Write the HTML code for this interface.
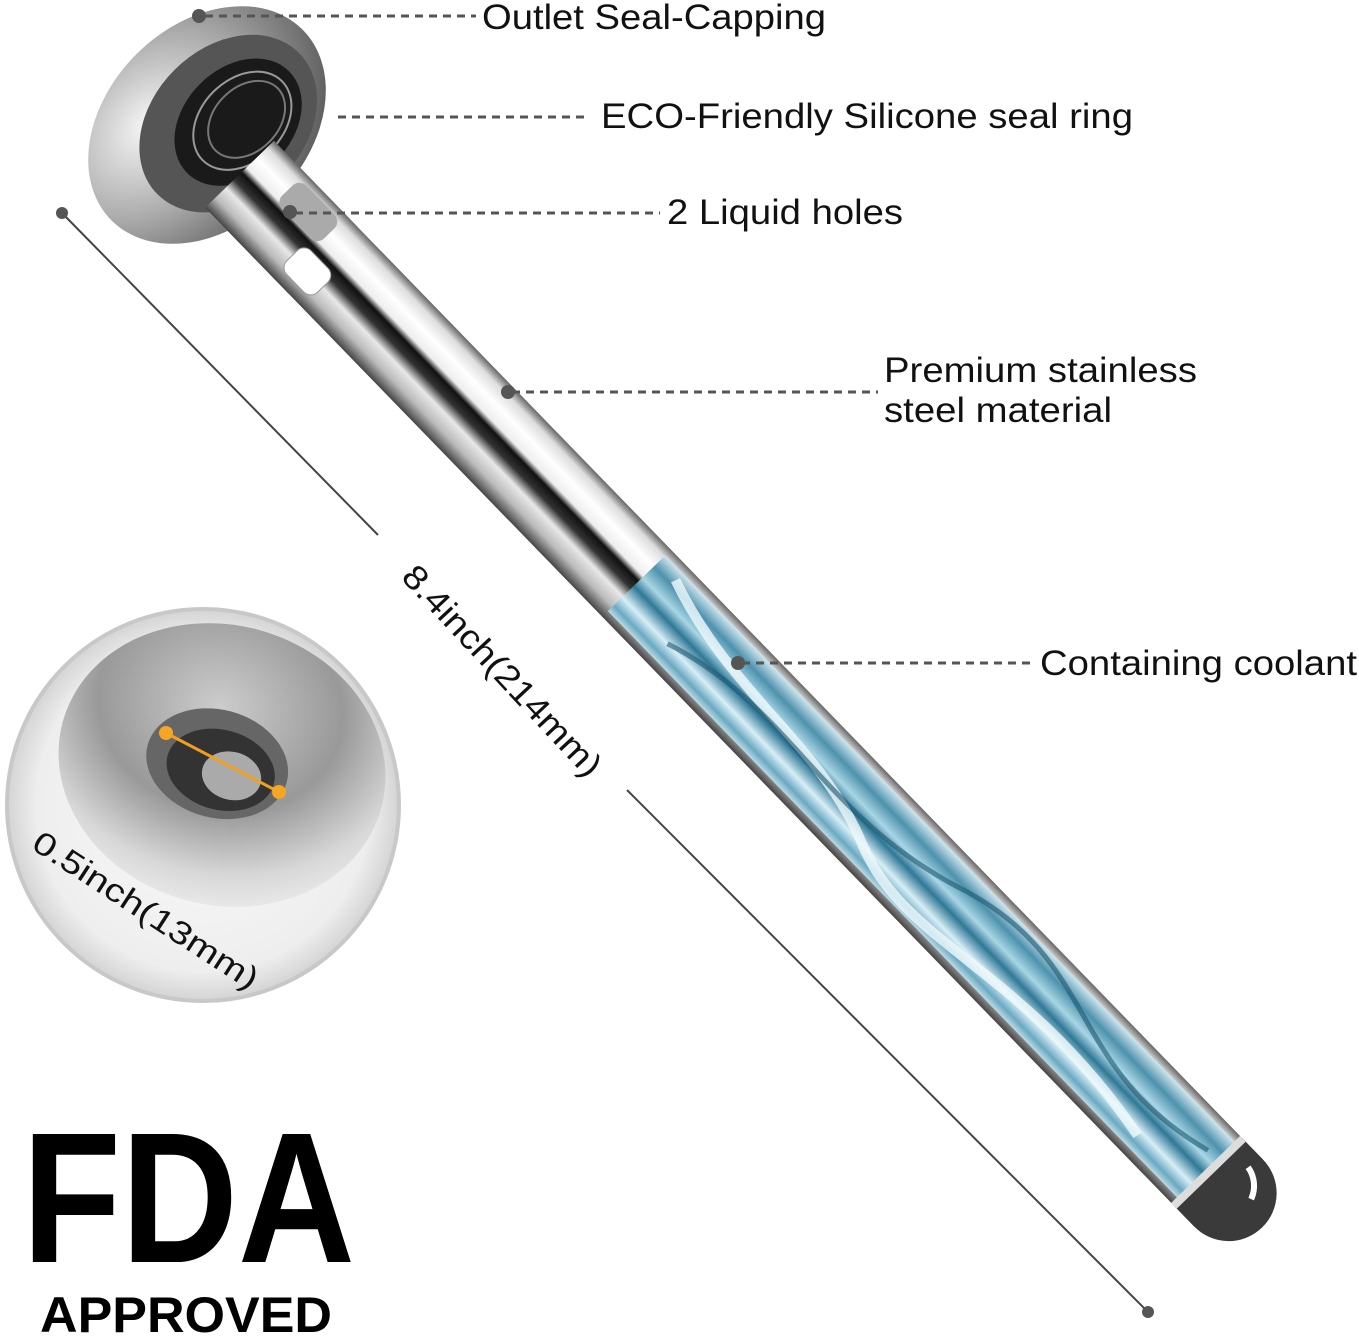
<!DOCTYPE html>
<html><head><meta charset="utf-8"><style>
html,body{margin:0;padding:0;background:#fff;}
svg{display:block;}
text{font-family:"Liberation Sans",sans-serif;}
</style></head><body>
<svg width="1359" height="1342" viewBox="0 0 1359 1342" xmlns="http://www.w3.org/2000/svg">
<defs>
<linearGradient id="rodg" x1="0" y1="0" x2="0" y2="1">
<stop offset="0" stop-color="#666"/><stop offset="0.1" stop-color="#ddd"/><stop offset="0.25" stop-color="#fff"/>
<stop offset="0.4" stop-color="#eee"/><stop offset="0.47" stop-color="#111"/><stop offset="0.58" stop-color="#333"/>
<stop offset="0.7" stop-color="#e8e8e8"/><stop offset="0.85" stop-color="#bbb"/><stop offset="1" stop-color="#444"/></linearGradient>
<linearGradient id="blueg" x1="0" y1="0" x2="0" y2="1">
<stop offset="0" stop-color="#cfe6ee"/><stop offset="0.2" stop-color="#4d92ad"/><stop offset="0.4" stop-color="#a9d6e4"/>
<stop offset="0.55" stop-color="#2f7896"/><stop offset="0.75" stop-color="#d8eff6"/><stop offset="0.9" stop-color="#6aa9c2"/><stop offset="1" stop-color="#bcdbe5"/></linearGradient>
<radialGradient id="capg" cx="0.35" cy="0.3" r="0.8"><stop offset="0" stop-color="#f8f8f8"/><stop offset="0.5" stop-color="#aaa"/><stop offset="1" stop-color="#555"/></radialGradient>
<radialGradient id="insetg" cx="0.5" cy="0.5" r="0.5"><stop offset="0" stop-color="#fafafa"/><stop offset="0.85" stop-color="#eee"/><stop offset="1" stop-color="#d4d4d4"/></radialGradient>
<radialGradient id="donut" cx="0.45" cy="0.3" r="0.75"><stop offset="0" stop-color="#ccc"/><stop offset="0.5" stop-color="#999"/><stop offset="0.8" stop-color="#d8d8d8"/><stop offset="1" stop-color="#eee"/></radialGradient>
</defs>

<!-- dimension line -->
<line x1="62" y1="213" x2="378" y2="535" stroke="#444" stroke-width="2"/>
<line x1="627" y1="790" x2="1148" y2="1312" stroke="#444" stroke-width="2"/>
<circle cx="62" cy="213" r="6" fill="#555"/><circle cx="1148" cy="1312" r="6" fill="#555"/>
<text x="0" y="0" font-size="34" fill="#111" transform="translate(400,578) rotate(47)" textLength="275" lengthAdjust="spacingAndGlyphs">8.4inch(214mm)</text>

<!-- rod -->
<g transform="translate(250,185) rotate(45.85)">
<rect x="0" y="-48" width="1405" height="96" fill="url(#rodg)"/>
<rect x="555" y="-40" width="825" height="80" fill="url(#blueg)"/>
<path d="M580 -30 C700 10 800 -20 900 20 S1100 -10 1300 25" stroke="#f0fafd" stroke-width="10" fill="none" opacity="0.8"/>
<path d="M620 20 C750 -25 850 30 1000 -20 S1200 30 1360 -15" stroke="#1d5670" stroke-width="5" fill="none" opacity="0.6"/>
<path d="M1375 -48 L1405 -48 A48 48 0 0 1 1405 48 L1375 48 Z" fill="#3a3a3a"/>
<path d="M1400 -32 A32 32 0 0 1 1425 -12" stroke="#fff" stroke-width="6" fill="none"/>
<rect x="1372" y="-48" width="8" height="96" fill="#ddd"/>
</g>

<!-- cap -->
<g transform="translate(207,125) rotate(-45)">
<ellipse cx="0" cy="0" rx="135" ry="100" fill="url(#capg)"/>
<ellipse cx="16" cy="14" rx="100" ry="76" fill="#555"/>
<ellipse cx="24" cy="20" rx="72" ry="54" fill="#1a1a1a"/>
<ellipse cx="28" cy="22" rx="56" ry="41" fill="none" stroke="#999" stroke-width="2"/>
<ellipse cx="32" cy="24" rx="44" ry="32" fill="none" stroke="#777" stroke-width="2"/>
</g>
<g transform="translate(250,185) rotate(45.85)">
<rect x="-15" y="-48" width="120" height="96" fill="url(#rodg)"/>
<rect x="30" y="-40" width="60" height="34" rx="10" fill="#aaa"/>
<rect x="80" y="2" width="44" height="34" rx="10" fill="#fff" stroke="#999"/>
</g>

<!-- labels -->
<g stroke="#555" stroke-width="3" stroke-dasharray="8,6" fill="none">
<line x1="205" y1="16" x2="476" y2="16"/>
<line x1="338" y1="117" x2="590" y2="117"/>
<line x1="295" y1="213" x2="660" y2="213"/>
<line x1="512" y1="392" x2="878" y2="392"/>
<line x1="742" y1="663" x2="1030" y2="663"/>
</g>
<g fill="#555"><circle cx="199" cy="16" r="7"/><circle cx="290" cy="212" r="7"/><circle cx="508" cy="392" r="7"/><circle cx="738" cy="663" r="7"/></g>
<g font-size="35" fill="#111" lengthAdjust="spacingAndGlyphs">
<text x="482" y="29" textLength="344" lengthAdjust="spacingAndGlyphs">Outlet Seal-Capping</text>
<text x="601" y="128" textLength="532" lengthAdjust="spacingAndGlyphs">ECO-Friendly Silicone seal ring</text>
<text x="667" y="224" textLength="236" lengthAdjust="spacingAndGlyphs">2 Liquid holes</text>
<text x="884" y="382" textLength="313" lengthAdjust="spacingAndGlyphs">Premium stainless</text>
<text x="884" y="422" textLength="228" lengthAdjust="spacingAndGlyphs">steel material</text>
<text x="1040" y="675" textLength="317" lengthAdjust="spacingAndGlyphs">Containing coolant</text>
</g>

<!-- inset -->
<circle cx="203" cy="805" r="196" fill="url(#insetg)" stroke="#c8c8c8" stroke-width="4"/>
<g transform="translate(222,765) rotate(15)">
<ellipse cx="0" cy="0" rx="165" ry="140" fill="url(#donut)"/>
<ellipse cx="-5" cy="0" rx="72" ry="54" fill="#666"/>
<ellipse cx="0" cy="5" rx="55" ry="40" fill="#333"/>
<ellipse cx="12" cy="8" rx="30" ry="24" fill="#aaa"/>
</g>
<line x1="166" y1="733" x2="279" y2="792" stroke="#f0a020" stroke-width="3"/>
<circle cx="166" cy="733" r="7" fill="#f5a623"/><circle cx="279" cy="792" r="7" fill="#f5a623"/>
<text x="0" y="0" font-size="32" fill="#111" transform="translate(30,848) rotate(33)" textLength="262" lengthAdjust="spacingAndGlyphs">0.5inch(13mm)</text>

<!-- FDA -->
<text x="22" y="1262" font-size="186" font-weight="bold" fill="#000" textLength="333" lengthAdjust="spacingAndGlyphs">FDA</text>
<text x="40" y="1332" font-size="50" font-weight="bold" fill="#000" textLength="292" lengthAdjust="spacingAndGlyphs">APPROVED</text>
</svg>
</body></html>
